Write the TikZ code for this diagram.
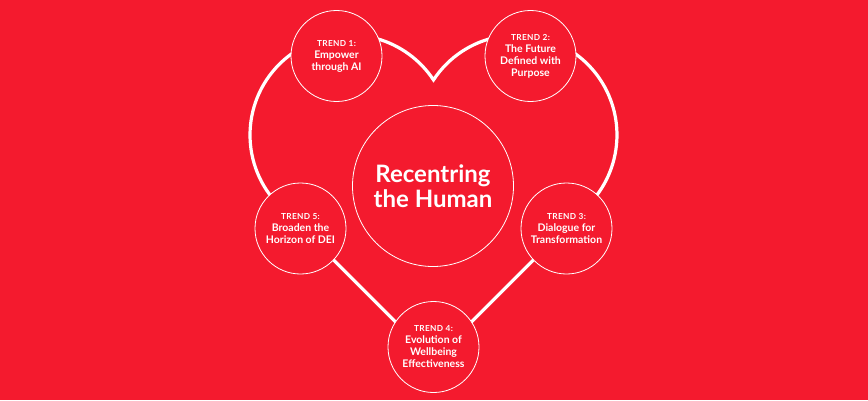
\documentclass[tikz,border=0pt]{standalone}
\usepackage{fontspec}
\setmainfont{Lato}
\definecolor{bgred}{RGB}{244,26,46}
\begin{document}
\begin{tikzpicture}[x=1pt,y=1pt,
  trend/.style={circle,draw=white,line width=0.8pt,fill=bgred,minimum size=91pt,inner sep=0pt,
    text=white,align=center,font=\bfseries\fontsize{10.5}{12}\selectfont},
  hub/.style={circle,draw=white,line width=0.8pt,fill=bgred,minimum size=161pt,inner sep=0pt,
    text=white,align=center,font=\bfseries\fontsize{24}{25.5}\selectfont},
  heart/.style={draw=white,line width=3.2pt,line join=miter}]
\fill[bgred] (0,0) rectangle (868,400);
\useasboundingbox (0,0) rectangle (868,400);
% heart outline
\coordinate (hb) at (433.5,40.1);
\coordinate (hl) at (279.3,194.3);
\draw[heart] (hb) -- (hl) arc[start angle=225,end angle=33.4,radius=100]
  arc[start angle=146.6,end angle=-45,radius=100] -- cycle;
\newcommand{\tlabel}[1]{{\fontsize{8.3}{12}\addfontfeature{LetterSpace=4}\selectfont #1}}
\node[hub] (c) at (433,214) {Recentring\\the Human};
\node[trend] (t1) at (336.5,344) {\tlabel{TREND 1:}\\Empower\\through AI};
\node[trend] (t2) at (530.5,344) {\tlabel{TREND 2:}\\The Future\\Defined with\\Purpose};
\node[trend] (t3) at (566.5,171.5) {\tlabel{TREND 3:}\\Dialogue for\\Transformation};
\node[trend] (t4) at (433.5,53) {\tlabel{TREND 4:}\\Evolution of\\Wellbeing\\Effectiveness};
\node[trend] (t5) at (300.5,171.5) {\tlabel{TREND 5:}\\Broaden the\\Horizon of DEI};
\end{tikzpicture}
\end{document}
